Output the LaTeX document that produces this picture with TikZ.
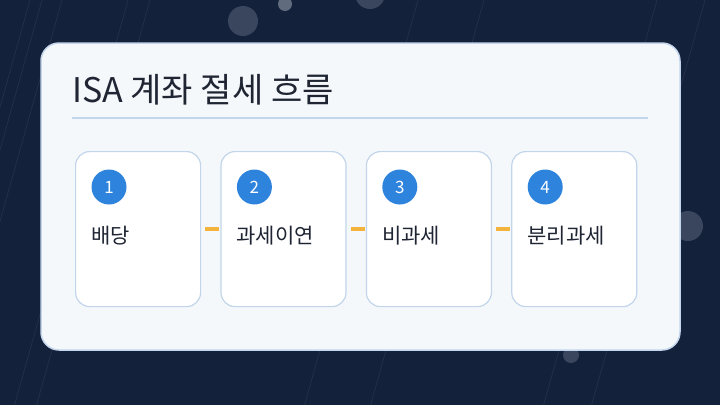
\documentclass[tikz,border=0pt]{standalone}
\usepackage{fontspec}
\setmainfont{Noto Sans CJK KR}
\definecolor{bgnavy}{HTML}{14213A}
\definecolor{cardfill}{HTML}{F5F8FB}
\definecolor{cardline}{HTML}{C3D6EC}
\definecolor{boxline}{HTML}{C2D5EA}
\definecolor{numblue}{HTML}{2E84DD}
\definecolor{connor}{HTML}{F3B33D}
\definecolor{txt}{HTML}{1F2533}
\definecolor{bub}{HTML}{3A465E}
\tikzset{
  card/.style={draw=cardline, line width=1.5pt, fill=cardfill, rounded corners=18pt},
  stepbox/.style={draw=boxline, line width=1.2pt, fill=white, rounded corners=14pt,
    minimum width=125pt, minimum height=155pt, inner sep=0pt},
  numdot/.style={circle, fill=numblue, minimum size=35pt, inner sep=0pt,
    text=white, font=\fontsize{17}{17}\selectfont},
  steplabel/.style={anchor=west, inner sep=0pt, text=txt, font=\fontsize{21}{21}\selectfont},
  conn/.style={draw=connor, line width=4pt, shorten <=4pt, shorten >=1pt},
  streak/.style={draw=white, opacity=0.08, line width=0.6pt},
  bubble/.style={fill=bub}
}
\begin{document}
\begin{tikzpicture}[x=1pt,y=-1pt]
\useasboundingbox (0,0) rectangle (720,405);
\fill[bgnavy] (0,0) rectangle (720,405);
% faint streaks
\foreach \t in {30,42,62,128,150,418,484,657,705} {
  \draw[streak] (\t,0) -- ({\t-0.28*405},405);
}
% bubbles
\fill[bubble] (243,21) circle (15);
\fill[bubble, fill=bub!80!white] (285,4) circle (7);
\fill[bubble] (370,-6) circle (15);
\fill[bubble] (688,226) circle (15);
\fill[bubble] (571,355) circle (8);
% card
\node[card, minimum width=639pt, minimum height=307pt, inner sep=0pt] (card) at (360.5,196.5) {};
\node[anchor=west, inner sep=0pt, text=txt, font=\fontsize{34}{34}\selectfont] (title) at (72,90) {ISA 계좌 절세 흐름};
\coordinate (rl) at (72,118);
\coordinate (rr) at (648,118);
\draw[cardline, line width=1.5pt] (rl) -- (rr);
% steps
\foreach \i/\lab in {1/배당,2/과세이연,3/비과세,4/분리과세} {
  \pgfmathsetmacro{\xl}{75+145.4*(\i-1)}
  \node[stepbox, anchor=north west] (b\i) at (\xl,151) {};
  \node[numdot] (n\i) at ({\xl+34},187) {\i};
  \node[steplabel] (t\i) at ({\xl+16},236) {\lab};
}
\draw[conn] (b1.east) -- (b2.west);
\draw[conn] (b2.east) -- (b3.west);
\draw[conn] (b3.east) -- (b4.west);
\end{tikzpicture}
\end{document}
